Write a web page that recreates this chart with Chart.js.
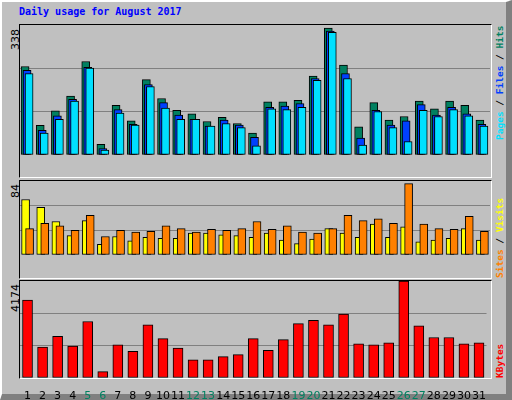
<!DOCTYPE html>
<html><head><meta charset="utf-8">
<script src="https://cdn.jsdelivr.net/npm/chart.js@4"></script>
<style>
body{margin:0;width:512px;height:400px;overflow:hidden;background:#fff}
#outer{position:absolute;left:0;top:0;background:#c0c0c0;border-left:2px solid #fff;border-top:2px solid #fff;border-right:6px solid #808080;border-bottom:6px solid #808080;box-sizing:border-box;width:512px;height:400px}
.frame{position:absolute;border-left:1px solid #000;border-top:1px solid #000;border-right:1px solid #fff;border-bottom:1px solid #fff;box-sizing:border-box}
canvas{position:absolute}
.t{position:absolute;font-family:"DejaVu Sans Mono",monospace;white-space:nowrap}
.rot{transform-origin:0 0;transform:rotate(-90deg)}
</style></head><body>
<div id="outer"></div>
<div class="t" style="left:19px;top:6px;font-size:10px;font-weight:bold;color:#0000ff">Daily usage for August 2017</div>
<div class="frame" style="left:19px;top:24px;width:473px;height:154px"></div>
<div class="frame" style="left:19px;top:180px;width:473px;height:99px"></div>
<div class="frame" style="left:19px;top:280px;width:473px;height:99px"></div>
<div class="t rot" style="left:9px;top:50px;font-family:'DejaVu Sans';font-size:11px">338</div>
<div class="t rot" style="left:9px;top:198px;font-family:'DejaVu Sans';font-size:11px">84</div>
<div class="t rot" style="left:9px;top:312px;font-family:'DejaVu Sans';font-size:11px">4174</div>
<div class="t rot" style="left:494px;top:140px;font-size:9.5px;font-weight:bold"><span style="color:#00e0ff">Pages</span><span style="color:#000"> / </span><span style="color:#0040ff">Files</span><span style="color:#000"> / </span><span style="color:#008060">Hits</span></div>
<div class="t rot" style="left:494px;top:278px;font-size:9.5px;font-weight:bold"><span style="color:#ff8000">Sites</span><span style="color:#000"> / </span><span style="color:#ffff00">Visits</span></div>
<div class="t rot" style="left:494px;top:378px;font-size:9.5px;font-weight:bold;color:#ff0000">KBytes</div>
<canvas id="c1" style="left:20px;top:25px;width:470px;height:152px"></canvas>
<canvas id="c2" style="left:20px;top:181px;width:470px;height:96px"></canvas>
<canvas id="c3" style="left:20px;top:281px;width:470px;height:119px"></canvas>
<script>
const days=["1","2","3","4","5","6","7","8","9","10","11","12","13","14","15","16","17","18","19","20","21","22","23","24","25","26","27","28","29","30","31"];
const weekend=["5","6","12","13","19","20","26","27"];
const hits=[230,77,115,153,243,28,129,89,196,147,116,107,87,98,82,57,138,138,142,205,330,234,73,136,91,100,140,120,140,129,91];
const files=[220,64,102,145,228,17,118,80,183,136,104,93,75,91,78,46,124,127,134,199,322,212,44,116,78,89,131,104,124,107,80];
const pages=[212,57,93,140,226,13,109,78,178,122,93,93,75,82,71,24,120,118,124,194,319,199,26,113,71,35,116,100,118,102,75];
const visits=[63,54,38,22,39,12,21,16,20,19,19,25,25,23,22,20,25,17,13,18,30,25,20,35,20,32,15,17,19,30,17];
const sites=[30,36,33,28,45,21,28,26,27,33,30,26,29,28,30,38,29,33,26,25,30,45,39,41,36,81,35,30,29,44,27];
const kbytes=[3349,1330,1789,1376,2431,275,1422,1147,2293,1697,1284,780,780,917,1009,1697,1193,1651,2339,2477,2293,2752,1468,1422,1514,4174,2248,1743,1743,1468,1514];
const maxes=[338,84,4174];

const shiftPlugin={id:'shift',afterDatasetsUpdate(chart){
  chart.data.datasets.forEach((ds,i)=>{const m=chart.getDatasetMeta(i);m.data.forEach(e=>{e.x+=ds.shift;});});
}};
function ds(data,color,shift,w,order){return {data,backgroundColor:color,borderColor:'#000',borderWidth:1,borderSkipped:false,barThickness:w,shift,grouped:false,order};}
function make(id,datasets,max,showX){
  new Chart(document.getElementById(id),{type:'bar',data:{labels:days,datasets},
    plugins:[shiftPlugin],
    options:{animation:false,responsive:false,devicePixelRatio:1,layout:{padding:0},
      plugins:{legend:{display:false},tooltip:{enabled:false}},
      scales:{
        x:{offset:true,display:showX,grid:{display:false},border:{display:false},
           ticks:{padding:4,maxRotation:0,autoSkip:false,font:{family:'DejaVu Sans',size:11},
             color:c=>weekend.includes(days[c.index])?'#008060':'#000'},
           afterFit:s=>{s.height=22;}},
        y:{min:0,max:max,ticks:{display:false,stepSize:max/3},border:{display:false},
           grid:{drawTicks:false,color:c=>(c.index===1||c.index===2)?'#808080':'rgba(0,0,0,0)',lineWidth:1},
           afterFit:s=>{s.width=0;}}
      }}});
}
make('c1',[ds(hits,'#008060',-2.5,8,3),ds(files,'#0040ff',-0.5,8,2),ds(pages,'#00e0ff',1.5,8,1)],maxes[0],false);
make('c2',[ds(visits,'#ffff00',-2,8,2),ds(sites,'#ff8000',2,8,1)],maxes[1],false);
make('c3',[ds(kbytes,'#ff0000',0,10,1)],maxes[2],true);
</script></body></html>
